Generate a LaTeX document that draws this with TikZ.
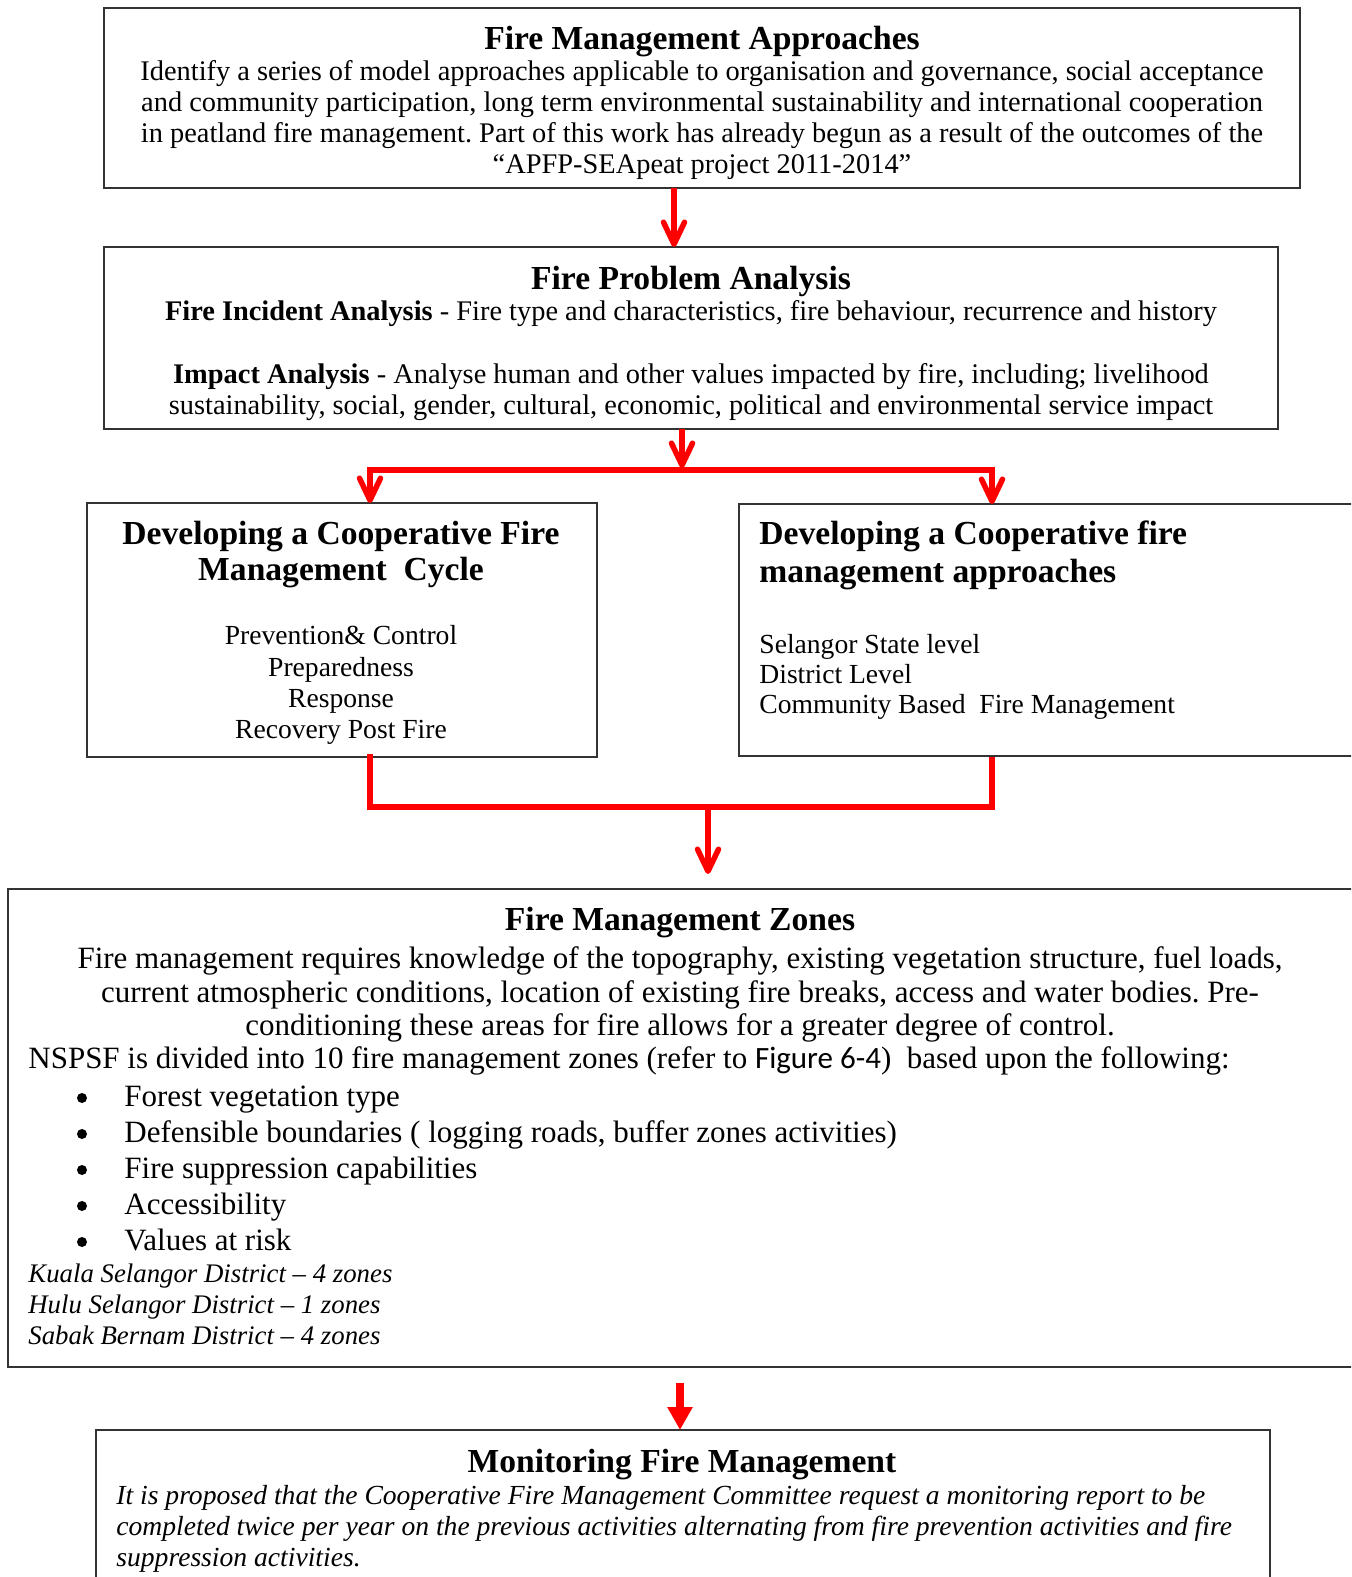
\documentclass[tikz,border=0pt]{standalone}
\usepackage{fontspec}
\setmainfont{Liberation Serif}
\newfontfamily\calib{Carlito}
\usetikzlibrary{arrows.meta,fit}
\definecolor{boxgray}{HTML}{333333}
\definecolor{fred}{HTML}{FF0000}
\frenchspacing
\begin{document}
\frenchspacing
\begin{tikzpicture}[x=0.5pt,y=-0.5pt,
  box/.style={draw=boxgray,line width=0.75pt,inner sep=0pt,outer sep=0pt},
  conn/.style={draw=fred,line width=2.75pt},
  arr/.style={conn,-{Straight Barb[length=11pt,width=10.5pt,round]}},
  arrtri/.style={draw=fred,line width=4pt,-{Triangle[length=11.5pt,width=12pt]}},
  ttl/.style={font=\bfseries\fontsize{16.8}{19}\selectfont,inner sep=0pt,anchor=base},
  ttll/.style={ttl,anchor=base west},
  bA/.style={font=\fontsize{14.2}{16}\selectfont,inner sep=0pt,anchor=base},
  bC/.style={font=\fontsize{13.8}{16}\selectfont,inner sep=0pt,anchor=base},
  bCl/.style={bC,anchor=base west},
  bZ/.style={font=\fontsize{15.5}{17}\selectfont,inner sep=0pt,anchor=base},
  bZl/.style={bZ,anchor=base west},
  bul/.style={circle,fill=black,draw=none,inner sep=0pt,minimum size=5pt},
  itZ/.style={font=\itshape\fontsize{13.4}{15}\selectfont,inner sep=0pt,anchor=base west},
  itM/.style={font=\itshape\fontsize{13.8}{15}\selectfont,inner sep=0pt,anchor=base west},
]
\useasboundingbox (0,0) rectangle (1351,1577);
\clip (0,0) rectangle (1351,1577);
\fill[white] (0,0) rectangle (1351,1577);

% ---------- Box 1 ----------
\node[box,fit={(104,8) (1300,188)}] (b1) {};
\node[ttl] (b1t) at (702,50) {Fire Management Approaches};
\node[bA] (b1l1) at (702,81) {Identify a series of model approaches applicable to organisation and governance, social acceptance};
\node[bA] (b1l2) at (702,112) {and community participation, long term environmental sustainability and international cooperation};
\node[bA] (b1l3) at (702,143) {in peatland fire management. Part of this work has already begun as a result of the outcomes of the};
\node[bA] (b1l4) at (702,174) {“APFP-SEApeat project 2011-2014”};

% ---------- Box 2 ----------
\node[box,fit={(104,247) (1278,429)}] (b2) {};
\node[ttl] (b2t) at (691,290) {Fire Problem Analysis};
\node[bA] (b2l1) at (691,321) {\textbf{Fire Incident Analysis} - Fire type and characteristics, fire behaviour, recurrence and history};
\node[bA] (b2l2) at (691,384) {\textbf{Impact Analysis} - Analyse human and other values impacted by fire, including; livelihood};
\node[bA] (b2l3) at (691,415) {sustainability, social, gender, cultural, economic, political and environmental service impact};

% ---------- Box 3 ----------
\node[box,fit={(87,503) (597,757)}] (b3) {};
\node[ttl] (b3t1) at (341,544) {Developing a Cooperative Fire};
\node[ttl] (b3t2) at (341,580) {Management~ Cycle};
\node[bC] (b3l1) at (341,644) {Prevention\& Control};
\node[bC] (b3l2) at (341,676) {Preparedness};
\node[bC] (b3l3) at (341,707) {Response};
\node[bC] (b3l4) at (341,738) {Recovery Post Fire};

% ---------- Box 4 ----------
\node[box,fit={(739,504) (1360,756)}] (b4) {};
\node[ttll] (b4t1) at (759,544) {Developing a Cooperative fire};
\node[ttll] (b4t2) at (759,582) {management approaches};
\node[bCl] (b4l1) at (759,653) {Selangor State level};
\node[bCl] (b4l2) at (759,683) {District Level};
\node[bCl] (b4l3) at (759,713) {Community Based~ Fire Management};

% ---------- Box 5 ----------
\node[box,fit={(8,889) (1353,1367)}] (b5) {};
\node[ttl] (b5t) at (680,930) {Fire Management Zones};
\node[bZ] (b5l1) at (680,968) {Fire management requires knowledge of the topography, existing vegetation structure, fuel loads,};
\node[bZ] (b5l2) at (680,1002) {current atmospheric conditions, location of existing fire breaks, access and water bodies. Pre-};
\node[bZ] (b5l3) at (680,1035) {conditioning these areas for fire allows for a greater degree of control.};
\node[bZl] (b5l4) at (28,1068) {NSPSF is divided into 10 fire management zones (refer to {\calib Figure 6-4})~ based upon the following:};
\node[bul] (bu1) at (82,1098) {};
\node[bul] (bu2) at (82,1134) {};
\node[bul] (bu3) at (82,1170) {};
\node[bul] (bu4) at (82,1206) {};
\node[bul] (bu5) at (82,1242) {};
\node[bZl] (bt1) at (124,1106) {Forest vegetation type};
\node[bZl] (bt2) at (124,1142) {Defensible boundaries ( logging roads, buffer zones activities)};
\node[bZl] (bt3) at (124,1178) {Fire suppression capabilities};
\node[bZl] (bt4) at (124,1214) {Accessibility};
\node[bZl] (bt5) at (124,1250) {Values at risk};
\node[itZ] (k1) at (28,1282) {Kuala Selangor District – 4 zones};
\node[itZ] (k2) at (28,1313) {Hulu Selangor District – 1 zones};
\node[itZ] (k3) at (28,1344) {Sabak Bernam District – 4 zones};

% ---------- Box 6 ----------
\node[box,fit={(96,1430) (1270,1600)}] (b6) {};
\node[ttl] (b6t) at (682,1472) {Monitoring Fire Management};
\node[itM] (b6l1) at (116,1504) {It is proposed that the Cooperative Fire Management Committee request a monitoring report to be};
\node[itM] (b6l2) at (116,1535) {completed twice per year on the previous activities alternating from fire prevention activities and fire};
\node[itM] (b6l3) at (116,1566) {suppression activities.};

% ---------- connectors ----------
\coordinate (xa) at (674,0);
\coordinate (xb) at (682,0);
\coordinate (cL) at (370,470);
\coordinate (cR) at (992,470);
\coordinate (cM) at (682,468);
\coordinate (dL) at (370,807);
\coordinate (dR) at (992,807);
\coordinate (dRt) at (992,760);
\coordinate (dM) at (708,807);
\coordinate (dMe) at (708,874);
\coordinate (eS) at (680,1383);

\draw[arr] (b1.south -| xa) -- (b2.north -| xa);
\draw[arr] (b2.south -| xb) -- (cM);
\draw[conn,line cap=rect] (cL) -- (cR);
\draw[arr] (cL) -- (b3.north -| cL);
\draw[arr] (cR) -- (b4.north -| cR);
\draw[conn,line cap=rect] (b3.south -| dL) -- (dL) -- (dR) -- (dRt);
\draw[arr] (dM) -- (dMe);
\draw[arrtri] (eS) -- (b6.north -| eS);
\end{tikzpicture}
\end{document}
